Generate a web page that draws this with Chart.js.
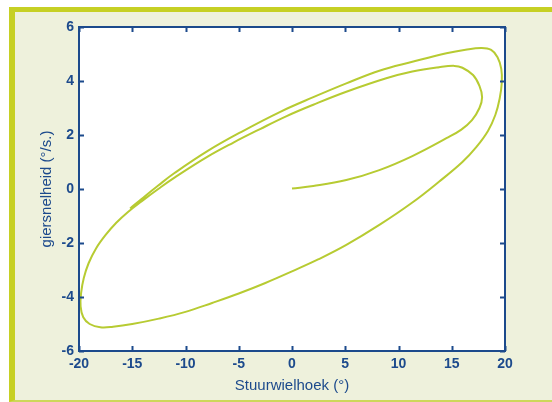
<!DOCTYPE html>
<html>
<head>
<meta charset="utf-8">
<script src="https://cdn.jsdelivr.net/npm/chart.js@4"></script>
<style>
  html, body { margin: 0; padding: 0; background: #ffffff; }
  #frame {
    position: absolute; left: 9px; top: 7px; width: 537px; height: 388px;
    background: #eef1dc;
    border-left: 6px solid #c6d024;
    border-top: 5px solid #c6d024;
    border-bottom: 2px solid #cdd75a;
  }
  #c { position: absolute; left: 0; top: 0; }
</style>
</head>
<body>
<div id="frame"></div>
<canvas id="c" width="552" height="402"></canvas>
<script>
// Data (steering wheel angle vs yaw rate)
const stuurwielhoek = [
  0, 2.0, 5.1, 8.2, 11.3, 14.5, 15.9, 16.9, 17.6, 17.85, 17.6, 17.0, 16.0, 15.25, 13.8, 11.3, 8.85, 5.1, 2.0,
  -0.5, -3.0, -5.5, -8.0, -11.0, -12.56, -14.1, -15.4, -16.5, -17.5, -18.4, -19.1, -19.55, -19.8,
  -19.85, -19.6, -19.0, -18.0, -16.8, -15.0, -12.5, -10.0, -7.5, -5.0, -2.5, 0, 2.5, 5.1, 8.2, 11.3, 13.8,
  16.0, 17.3, 18.4, 19.1, 19.5, 19.7, 19.65, 19.3, 18.7, 17.8, 16.3, 14.5, 11.3, 8.2, 5.1, 2.0,
  -1.15, -4.74, -7.87, -11.0, -12.56, -14.1, -15.2
];
const giersnelheid = [
  0.02, 0.11, 0.33, 0.7, 1.22, 1.88, 2.2, 2.55, 3.0, 3.4, 3.82, 4.22, 4.49, 4.56, 4.51, 4.35, 4.1, 3.6, 3.12,
  2.7, 2.22, 1.72, 1.18, 0.43, 0.0, -0.45, -0.85, -1.25, -1.7, -2.2, -2.75, -3.3, -3.85,
  -4.35, -4.75, -5.0, -5.12, -5.1, -5.0, -4.8, -4.55, -4.22, -3.87, -3.48, -3.05, -2.6, -2.07, -1.33, -0.5, 0.27,
  1.0, 1.55, 2.15, 2.75, 3.35, 3.95, 4.45, 4.88, 5.15, 5.22, 5.16, 5.03, 4.71, 4.38, 3.91, 3.4,
  2.85, 2.12, 1.42, 0.6, 0.13, -0.36, -0.72
];
const xTicks = [-20, -15, -10, -5, 0, 5, 10, 15, 20];
const yTicks = [-6, -4, -2, 0, 2, 4, 6];
const xTitle = 'Stuurwielhoek (°)';
const yTitle = 'giersnelheid (°/s.)';

const BLUE = '#1c4a8c';
const LINE = '#b7cb32';

const points = stuurwielhoek.map((x, i) => ({ x: x, y: giersnelheid[i] }));

const boxPlugin = {
  id: 'box',
  beforeDraw(chart) {
    const { ctx, chartArea: a } = chart;
    ctx.save();
    ctx.fillStyle = '#ffffff';
    ctx.fillRect(a.left, a.top, a.right - a.left, a.bottom - a.top);
    ctx.restore();
  },
  afterDraw(chart) {
    const { ctx, chartArea: a, scales } = chart;
    ctx.save();
    ctx.strokeStyle = BLUE;
    ctx.lineWidth = 2;
    ctx.strokeRect(a.left, a.top, a.right - a.left, a.bottom - a.top);
    const L = 5;
    ctx.beginPath();
    xTicks.forEach(v => {
      const px = Math.round(scales.x.getPixelForValue(v)) + 0.5;
      ctx.moveTo(px, a.bottom); ctx.lineTo(px, a.bottom - L);
      ctx.moveTo(px, a.top); ctx.lineTo(px, a.top + L);
    });
    yTicks.forEach(v => {
      const py = Math.round(scales.y.getPixelForValue(v)) + 0.5;
      ctx.moveTo(a.left, py); ctx.lineTo(a.left + L, py);
      ctx.moveTo(a.right, py); ctx.lineTo(a.right - L, py);
    });
    ctx.stroke();
    ctx.restore();
  }
};

const FONT = 'Liberation Sans, Arial, sans-serif';

new Chart(document.getElementById('c'), {
  type: 'scatter',
  data: {
    datasets: [{
      data: points,
      showLine: true,
      borderColor: LINE,
      borderWidth: 2,
      pointRadius: 0,
      tension: 0.4,
      fill: false
    }]
  },
  options: {
    responsive: false,
    animation: false,
    layout: { padding: { left: 0, top: 27, right: 47, bottom: 0 } },
    plugins: { legend: { display: false }, tooltip: { enabled: false } },
    scales: {
      x: {
        type: 'linear', min: -20, max: 20,
        afterBuildTicks: s => { s.ticks = xTicks.map(v => ({ value: v })); },
        afterFit: s => { s.height = 51; },
        grid: { display: false, drawTicks: false },
        border: { display: false },
        ticks: { color: BLUE, padding: 5, font: { family: FONT, size: 14, weight: 'bold' } },
        title: { display: true, text: xTitle, color: BLUE, padding: { top: 0, bottom: 7 },
                 font: { family: FONT, size: 15 } }
      },
      y: {
        type: 'linear', min: -6, max: 6,
        afterBuildTicks: s => { s.ticks = yTicks.map(v => ({ value: v })); },
        afterFit: s => { s.width = 79; },
        grid: { display: false, drawTicks: false },
        border: { display: false },
        ticks: { color: BLUE, padding: 5, font: { family: FONT, size: 14, weight: 'bold' } },
        title: { display: true, text: yTitle, color: BLUE, padding: { top: 38, bottom: 0 },
                 font: { family: FONT, size: 15 } }
      }
    }
  },
  plugins: [boxPlugin]
});
</script>
</body>
</html>
